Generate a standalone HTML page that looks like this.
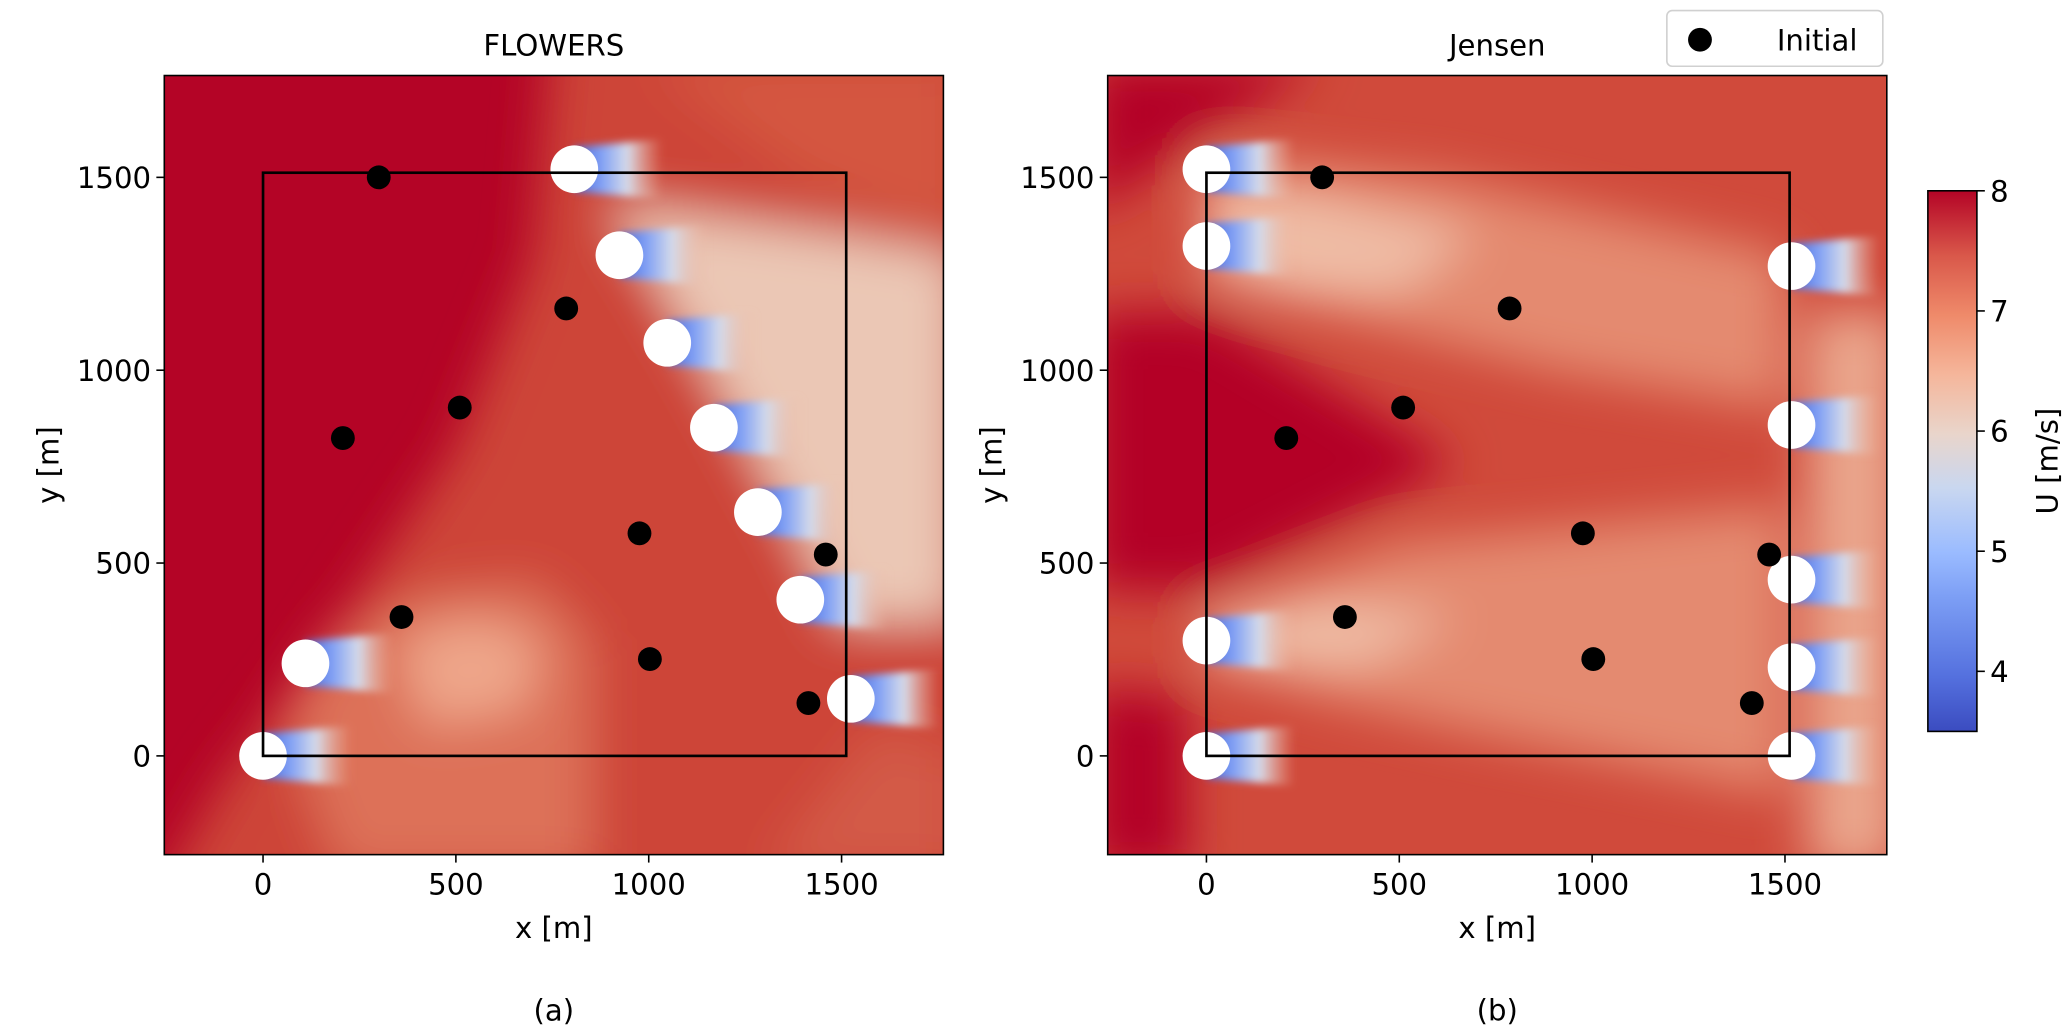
<!DOCTYPE html>
<html><head><meta charset="utf-8"><style>
html,body{margin:0;padding:0;background:#fff;}
svg{display:block;font-family:"DejaVu Sans","Liberation Sans",sans-serif;}
</style></head><body>
<svg id="fig" width="2067" height="1029" viewBox="0 0 1560 776.6" xmlns="http://www.w3.org/2000/svg">
<defs>
  <filter id="blur20" x="-50%" y="-50%" width="200%" height="200%"><feGaussianBlur stdDeviation="18"/></filter>
  <filter id="blur3" x="-50%" y="-50%" width="200%" height="200%"><feGaussianBlur stdDeviation="3"/></filter>
  <linearGradient id="wake" x1="0" y1="0" x2="1" y2="0">
    <stop offset="0" stop-color="#4a68d8"/>
    <stop offset="0.3" stop-color="#7f9ff5"/>
    <stop offset="0.6" stop-color="#d5dbea"/>
    <stop offset="1" stop-color="#f0b69c" stop-opacity="0"/>
  </linearGradient>
  <linearGradient id="cbar" x1="0" y1="1" x2="0" y2="0">
    <stop offset="0" stop-color="#3b4cc0"/>
    <stop offset="0.1" stop-color="#5470de"/>
    <stop offset="0.25" stop-color="#7d9ff5"/>
    <stop offset="0.33" stop-color="#9abbff"/>
    <stop offset="0.45" stop-color="#c9d7f0"/>
    <stop offset="0.55" stop-color="#e9d5cb"/>
    <stop offset="0.66" stop-color="#f5b69b"/>
    <stop offset="0.77" stop-color="#ef8a6a"/>
    <stop offset="0.88" stop-color="#d9584a"/>
    <stop offset="1" stop-color="#b40426"/>
  </linearGradient>
  <clipPath id="clipA"><rect x="124" y="57" width="588" height="588"/></clipPath>
  <clipPath id="clipB"><rect x="836" y="57" width="588" height="588"/></clipPath>
</defs>
<g id="panelA" clip-path="url(#clipA)"></g>
<g id="panelB" clip-path="url(#clipB)"></g>
<g id="overlay"></g>
<g>
  <rect x="1455" y="144" width="37" height="408" fill="url(#cbar)" stroke="#000" stroke-width="1.2"/>
</g>
<g id="cbticks"></g>
<text x="1553" y="348" font-size="22" text-anchor="middle" transform="rotate(-90 1553 348)">U [m/s]</text>
<text x="418" y="42" font-size="22" text-anchor="middle">FLOWERS</text>
<text x="1130" y="42" font-size="22" text-anchor="middle">Jensen</text>
<text x="418" y="708" font-size="22" text-anchor="middle">x [m]</text>
<text x="1130" y="708" font-size="22" text-anchor="middle">x [m]</text>
<text x="44" y="351" font-size="22" text-anchor="middle" transform="rotate(-90 44 351)">y [m]</text>
<text x="756" y="351" font-size="22" text-anchor="middle" transform="rotate(-90 756 351)">y [m]</text>
<text x="418" y="770" font-size="22" text-anchor="middle">(a)</text>
<text x="1130" y="770" font-size="22" text-anchor="middle">(b)</text>
<g>
  <rect x="1258" y="8" width="163" height="42" rx="4" fill="#fff" stroke="#d0d0d0" stroke-width="1.2"/>
  <circle cx="1283" cy="30" r="9" fill="#000"/>
  <text x="1341" y="38" font-size="22">Initial</text>
</g>
</svg>
<script>
// data
const initialX = [300, 786, 510, 207, 976, 1459, 359, 1003, 1414];
const initialY = [1500, 1160, 903, 824, 577, 522, 360, 251, 137];
const flowersX = [807, 924, 1048, 1169, 1283, 1393, 1524, 110, 0];
const flowersY = [1521, 1298, 1071, 851, 632, 405, 148, 240, 0];
const jensenX = [0, 0, 0, 0, 1517, 1517, 1517, 1517, 1517];
const jensenY = [1521, 1322, 299, 0, 1270, 858, 457, 230, 0];
const axisTicks = [0, 500, 1000, 1500];
const axisTickLabels = ["0", "500", "1000", "1500"];
const cbTicks = [4, 5, 6, 7, 8];
const cbTickLabels = ["4", "5", "6", "7", "8"];
const boundary = [0, 1512];

const NS = "http://www.w3.org/2000/svg";
const K = 588 / 2020, DMIN = -256, DMAX = 1764;
function sx(off, x) { return off + (x - DMIN) * K; }
function sy(y) { return 57 + (DMAX - y) * K; }
function cbY(v) { return 552 - (v - 3.5) / 4.5 * 408; }
function mk(tag, attrs, parent) {
  const e = document.createElementNS(NS, tag);
  for (const k in attrs) e.setAttribute(k, attrs[k]);
  parent.appendChild(e); return e;
}
const A = document.getElementById('panelA'), B = document.getElementById('panelB');
const ov = document.getElementById('overlay');
const offA = 124, offB = 836;
function P(off, pts) { return pts.map(p => sx(off, p[0]).toFixed(1) + "," + sy(p[1]).toFixed(1)).join(" "); }

// Panel A background
mk('rect', {x:124, y:57, width:588, height:588, fill:'#b40426'}, A);
let g = mk('g', {filter:'url(#blur20)'}, A);
mk('polygon', {points:P(offA, [[-300,-400],[2000,-400],[2000,2000],[760,2000],[700,1300],[500,800],[300,500],[100,200],[-100,-60]]), fill:'#cd4538'}, g);
mk('polygon', {points:P(offA, [[150,280],[400,420],[700,450],[850,300],[850,-300],[200,-300],[60,80]]), fill:'#dd7159'}, g);
mk('polygon', {points:P(offA, [[350,300],[550,360],[720,300],[680,120],[420,80]]), fill:'#eea68a'}, g);
mk('polygon', {points:P(offA, [[900,1430],[1030,1220],[1160,1000],[1280,780],[1400,560],[1500,350],[1800,350],[1800,1300],[1500,1350]]), fill:'#ebc7b5'}, g);
mk('polygon', {points:P(offA, [[1000,1800],[1800,1800],[1800,1350],[1400,1500]]), fill:'#d4573f'}, g);
mk('polygon', {points:P(offA, [[1600,80],[1800,0],[1800,-300],[1300,-300]]), fill:'#d35a47'}, g);

// Panel B background
mk('rect', {x:836, y:57, width:588, height:588, fill:'#d04a3b'}, B);
g = mk('g', {filter:'url(#blur20)'}, B);
mk('polygon', {points:P(offB, [[-300,1800],[300,1800],[-100,1550],[-300,1400]]), fill:'#b40426'}, g);
mk('polygon', {points:P(offB, [[-300,1150],[0,1150],[650,760],[0,430],[-300,430]]), fill:'#b40426'}, g);
mk('polygon', {points:P(offB, [[-300,180],[-50,150],[-50,-300],[-300,-300]]), fill:'#b40426'}, g);
mk('polygon', {points:P(offB, [[0,1560],[600,1500],[1500,1300],[1500,900],[900,1000],[300,1150],[0,1250]]), fill:'#e48a70'}, g);
mk('polygon', {points:P(offB, [[0,1480],[300,1450],[700,1350],[500,1200],[150,1200],[0,1260]]), fill:'#efbca5'}, g);
mk('polygon', {points:P(offB, [[0,360],[500,550],[1500,650],[1500,-100],[700,60],[300,150],[0,240]]), fill:'#e48a70'}, g);
mk('polygon', {points:P(offB, [[0,350],[300,400],[650,360],[400,230],[0,250]]), fill:'#efbca5'}, g);
mk('polygon', {points:P(offB, [[1560,1150],[1800,1150],[1800,-300],[1560,-300]]), fill:'#eaa68c'}, g);

// wakes and turbines
function wakes(off, xs, ys, parent) {
  const wg = mk('g', {filter:'url(#blur3)'}, parent);
  for (let i = 0; i < xs.length; i++) {
    const x = xs[i], y = ys[i], r = 58;
    const pts = [[x, y + r], [x + 230, y + r * 1.35], [x + 230, y - r * 1.35], [x, y - r]];
    const w = mk('polygon', {points:P(off, pts), fill:'url(#wake)'}, wg);
    
    
  }
  for (let i = 0; i < xs.length; i++) {
    const c = mk('circle', {cx:sx(off, xs[i]), cy:sy(ys[i]), r:18, fill:'#fff'}, parent);
    
    
  }
}
wakes(offA, flowersX, flowersY, A);
wakes(offB, jensenX, jensenY, B);

[offA, offB].forEach((off) => {
  const r = mk('rect', {x:sx(off, boundary[0]), y:sy(boundary[1]), width:(boundary[1]-boundary[0])*K, height:(boundary[1]-boundary[0])*K, fill:'none', stroke:'#000', 'stroke-width':2}, ov);
  
  
  for (let i = 0; i < initialX.length; i++) {
    const c = mk('circle', {cx:sx(off, initialX[i]), cy:sy(initialY[i]), r:9, fill:'#000'}, ov);
    
    
  }
  const fr = mk('rect', {x:off, y:57, width:588, height:588, fill:'none', stroke:'#000', 'stroke-width':1.2}, ov);
  
  
  for (let i = 0; i < axisTicks.length; i++) {
    const t = axisTicks[i];
    const X = sx(off, t), Y = sy(t);
    mk('line', {x1:X, y1:645, x2:X, y2:651, stroke:'#000', 'stroke-width':1.2}, ov);
    const tx = mk('text', {x:X, y:675, 'font-size':22, 'text-anchor':'middle'}, ov);
    tx.textContent = axisTickLabels[i];
    
    
    mk('line', {x1:off - 6, y1:Y, x2:off, y2:Y, stroke:'#000', 'stroke-width':1.2}, ov);
    const ty = mk('text', {x:off - 10, y:Y + 8, 'font-size':22, 'text-anchor':'end'}, ov);
    ty.textContent = axisTickLabels[i];
    
    
  }
});

const cbt = document.getElementById('cbticks');
for (let i = 0; i < cbTicks.length; i++) {
  const Y = cbY(cbTicks[i]);
  mk('line', {x1:1492, y1:Y, x2:1498, y2:Y, stroke:'#000', 'stroke-width':1.2}, cbt);
  const t = mk('text', {x:1502, y:Y + 8, 'font-size':22}, cbt);
  t.textContent = cbTickLabels[i];
  
  
}
</script>
</body></html>
